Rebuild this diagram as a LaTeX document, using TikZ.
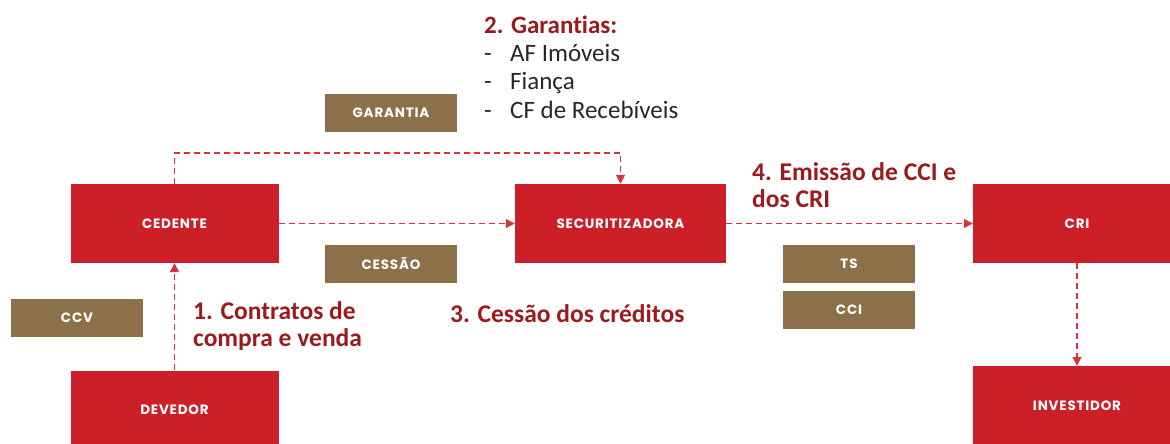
\documentclass[tikz,border=0pt]{standalone}
\usepackage{fontspec}
\setmainfont{Carlito}[Ligatures=CommonOff]
\newfontfamily\boxfont{Poppins}[LetterSpace=6]
\usetikzlibrary{arrows.meta}
\definecolor{boxred}{HTML}{CC1F27}
\definecolor{boxbrown}{HTML}{8B7049}
\definecolor{linered}{HTML}{D8333B}
\definecolor{labelred}{HTML}{9C1A1E}
\definecolor{listgrey}{HTML}{262626}
\begin{document}
\begin{tikzpicture}[x=1pt,y=-1pt,
	redbox/.style={fill=boxred,text=white,minimum width=208pt,minimum height=79pt,inner sep=0pt,font=\boxfont\bfseries\fontsize{13.5}{15}\selectfont},
	brownbox/.style={fill=boxbrown,text=white,minimum width=132pt,minimum height=38pt,inner sep=0pt,font=\boxfont\bfseries\fontsize{13.5}{15}\selectfont},
	flow/.style={linered,line width=1.4pt,dash pattern=on 6pt off 4pt,-{Triangle[length=9pt,width=9pt]}},
	steplabel/.style={labelred,anchor=base west,align=left,inner sep=0pt,font=\bfseries\fontsize{25.5}{26.5}\selectfont}]
		\useasboundingbox (0,0) rectangle (1170,444);
		\node[redbox] (cedente) at (174.5,223.5) {CEDENTE};
		\node[redbox,minimum width=211pt] (securitizadora) at (620.5,223.5) {SECURITIZADORA};
		\node[redbox] (cri) at (1077,223.5) {CRI};
		\node[redbox] (investidor) at (1077,405.5) {INVESTIDOR};
		\node[redbox] (devedor) at (174.5,410) {DEVEDOR};
		\node[brownbox] (ccv) at (77,318) {CCV};
		\node[brownbox] (garantia) at (391,113) {GARANTIA};
		\node[brownbox] (cessao) at (391,263.5) {CESSÃO};
		\node[brownbox] (ts) at (849,263.5) {TS};
		\node[brownbox] (cci) at (849,310) {CCI};
		\draw[flow] (devedor.north) -- (cedente.south);
		\draw[flow] (cedente.north) -- ++(0,-31) -| (securitizadora.north);
		\draw[flow] (cedente.east) -- (securitizadora.west);
		\draw[flow] (securitizadora.east) -- (cri.west);
		\draw[flow] (cri.south) -- (investidor.north);
		\node[steplabel] (contratos) at (193,346) {1. Contratos de\\compra e venda};
		\node[steplabel] (cessaolbl) at (450,322) {3. Cessão dos créditos};
		\node[steplabel] (emissao) at (752,207) {4. Emissão de CCI e\\dos CRI};
		\node[anchor=base west,align=left,inner sep=0pt,text=listgrey,font=\fontsize{25}{28.3}\selectfont] (garantias) at (484,118)
			{\textcolor{labelred}{\bfseries 2. Garantias:}\\
			\makebox[26pt][l]{-}AF Imóveis\\
			\makebox[26pt][l]{-}Fiança\\
			\makebox[26pt][l]{-}CF de Recebíveis};
	\end{tikzpicture}
\end{document}
